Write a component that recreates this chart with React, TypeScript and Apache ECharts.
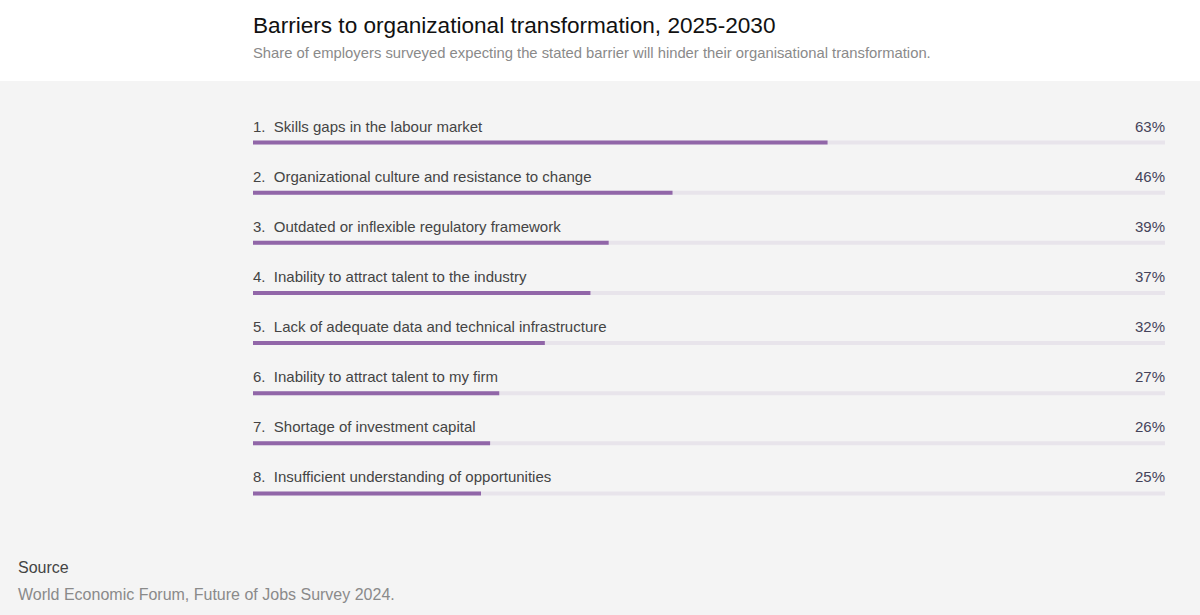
import React, { useEffect, useRef } from "react";
import * as echarts from "echarts";

const categories = [
  "Skills gaps in the labour market",
  "Organizational culture and resistance to change",
  "Outdated or inflexible regulatory framework",
  "Inability to attract talent to the industry",
  "Lack of adequate data and technical infrastructure",
  "Inability to attract talent to my firm",
  "Shortage of investment capital",
  "Insufficient understanding of opportunities",
];
const values = [63, 46, 39, 37, 32, 27, 26, 25];
const axisMax = 100;

const titleText = "Barriers to organizational transformation, 2025-2030";
const subtitleText =
  "Share of employers surveyed expecting the stated barrier will hinder their organisational transformation.";
const sourceTitle = "Source";
const sourceText = "World Economic Forum, Future of Jobs Survey 2024.";

const FONT = "'Liberation Sans', Arial, Helvetica, sans-serif";

export default function App() {
  const ref = useRef<HTMLDivElement>(null);
  useEffect(() => {
    if (!ref.current) return;
    const chart = echarts.init(ref.current, undefined, { renderer: "svg" });
    chart.setOption({
      animation: false,
      backgroundColor: "#f4f4f4",
      textStyle: { fontFamily: FONT },
      graphic: [
        {
          type: "rect",
          left: 0,
          top: 0,
          z: -10,
          shape: { width: 1200, height: 81 },
          style: { fill: "#ffffff" },
        },
        {
          type: "text",
          left: 18,
          top: 559,
          style: { text: sourceTitle, fill: "#444444", font: `16px ${FONT}` },
        },
        {
          type: "text",
          left: 18,
          top: 586,
          style: { text: sourceText, fill: "#8a8a8a", font: `16px ${FONT}` },
        },
      ],
      title: {
        text: titleText,
        subtext: subtitleText,
        left: 248,
        top: 9,
        itemGap: 8,
        textStyle: { fontSize: 22.6, fontWeight: "normal", color: "#111111", fontFamily: FONT },
        subtextStyle: { fontSize: 14.8, color: "#8a8a8a", fontFamily: FONT },
      },
      grid: { left: 253, right: 35, top: 117.5, bottom: 96.5 },
      xAxis: {
        type: "value",
        min: 0,
        max: axisMax,
        show: false,
      },
      yAxis: {
        type: "category",
        data: categories,
        inverse: true,
        show: false,
      },
      series: [
        {
          type: "bar",
          name: "track",
          data: categories.map(() => axisMax),
          barWidth: 4,
          barGap: "-100%",
          silent: true,
          itemStyle: { color: "#e8e4eb" },
          label: {
            show: true,
            position: ["100%", 0],
            align: "right",
            verticalAlign: "bottom",
            offset: [0, -7],
            formatter: (p: any) => `${values[p.dataIndex]}%`,
            fontSize: 15,
            color: "#45435a",
            fontFamily: FONT,
          },
        },
        {
          type: "bar",
          name: "share",
          data: values,
          barWidth: 4,
          barGap: "-100%",
          itemStyle: { color: "#9166a8" },
          label: {
            show: true,
            position: [0, 0],
            align: "left",
            verticalAlign: "bottom",
            offset: [0, -7],
            formatter: (p: any) => `${p.dataIndex + 1}.  ${p.name}`,
            fontSize: 15,
            color: "#444444",
            fontFamily: FONT,
          },
        },
      ],
    });
    return () => chart.dispose();
  }, []);
  return (
    <div
      ref={ref}
      style={{ position: "fixed", left: 0, top: 0, width: 1200, height: 615 }}
    />
  );
}
